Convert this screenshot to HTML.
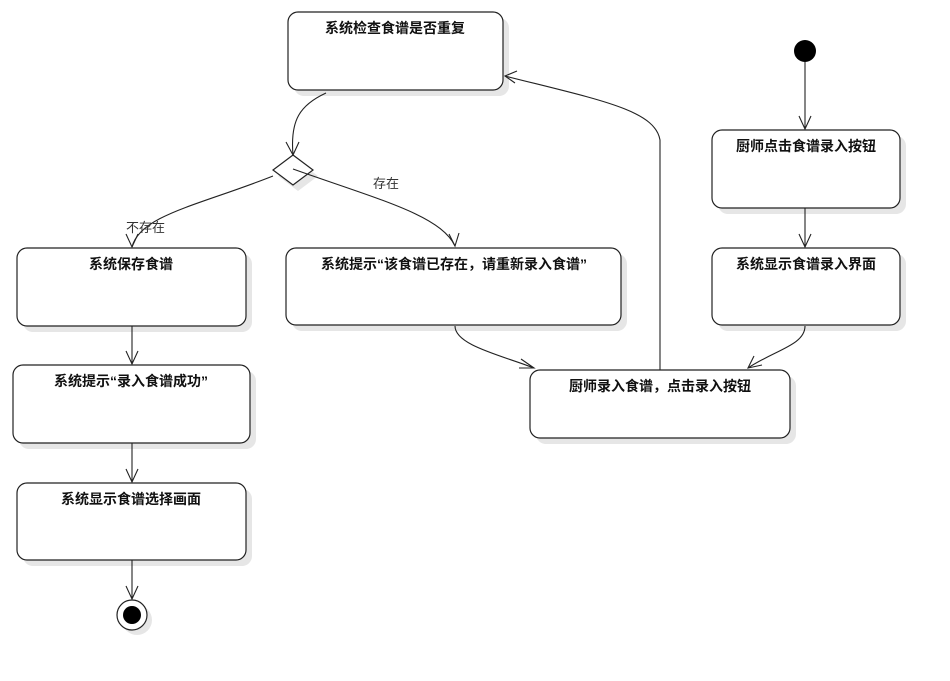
<!DOCTYPE html>
<html><head><meta charset="utf-8"><style>
html,body{margin:0;padding:0;background:#fff;}
svg{display:block;}
text{font-family:"Liberation Sans","Noto Sans CJK SC","WenQuanYi Zen Hei",sans-serif;}
.t{font-size:14px;font-weight:bold;fill:#111;text-anchor:middle;}
.l{font-size:13px;fill:#333;}
.b{fill:#fff;stroke:#222;stroke-width:1.2;}
.s{fill:#e6e6e6;}
.c{fill:none;stroke:#222;stroke-width:1.1;}
</style></head><body>
<svg width="950" height="681" viewBox="0 0 950 681" xmlns="http://www.w3.org/2000/svg">
<!-- shadows -->
<rect class="s" x="294" y="18" width="215" height="78" rx="10"/>
<rect class="s" x="718" y="136" width="188" height="78" rx="10"/>
<rect class="s" x="718" y="254" width="188" height="77" rx="10"/>
<rect class="s" x="23" y="254" width="229" height="78" rx="10"/>
<rect class="s" x="292" y="254" width="335" height="77" rx="10"/>
<rect class="s" x="19" y="371" width="237" height="78" rx="10"/>
<rect class="s" x="536" y="376" width="260" height="68" rx="10"/>
<rect class="s" x="23" y="489" width="229" height="77" rx="10"/>
<circle cx="137" cy="620" r="15" fill="#e6e6e6"/>
<polygon points="298,161 318,176 298,191 278,176" fill="#e6e6e6"/>
<!-- boxes -->
<rect class="b" x="288" y="12" width="215" height="78" rx="10"/>
<text class="t" x="395" y="33">系统检查食谱是否重复</text>
<rect class="b" x="712" y="130" width="188" height="78" rx="10"/>
<text class="t" x="806" y="151">厨师点击食谱录入按钮</text>
<rect class="b" x="712" y="248" width="188" height="77" rx="10"/>
<text class="t" x="806" y="269">系统显示食谱录入界面</text>
<rect class="b" x="17" y="248" width="229" height="78" rx="10"/>
<text class="t" x="131" y="269">系统保存食谱</text>
<rect class="b" x="286" y="248" width="335" height="77" rx="10"/>
<text class="t" x="454" y="269">系统提示“该食谱已存在，请重新录入食谱”</text>
<rect class="b" x="13" y="365" width="237" height="78" rx="10"/>
<text class="t" x="131" y="386">系统提示“录入食谱成功”</text>
<rect class="b" x="530" y="370" width="260" height="68" rx="10"/>
<text class="t" x="660" y="391">厨师录入食谱，点击录入按钮</text>
<rect class="b" x="17" y="483" width="229" height="77" rx="10"/>
<text class="t" x="131" y="504">系统显示食谱选择画面</text>
<!-- diamond -->
<polygon class="b" points="293,155 313,170 293,185 273,170"/>
<!-- start/end -->
<circle cx="805" cy="51" r="11" fill="#000"/>
<circle cx="132" cy="615" r="15" fill="#fff" stroke="#222" stroke-width="1.2"/>
<circle cx="132" cy="615" r="9" fill="#000"/>
<!-- connectors -->
<path class="c" d="M326,93 C300,105 290,120 293,155"/>
<path class="c" d="M286,142 L293,155 L299,142"/>
<path class="c" d="M273,176 C200,205 140,215 132,247"/>
<path class="c" d="M126,234 L132,247 L138,234"/>
<path class="c" d="M293,169 C380,200 440,215 455,246"/>
<path class="c" d="M449,234 L455,246 L459,233"/>
<text class="l" x="373" y="188">存在</text>
<text class="l" x="126" y="232">不存在</text>
<path class="c" d="M455,326 C455,345 500,355 534,368"/>
<path class="c" d="M521,359 L534,368 L519,368"/>
<path class="c" d="M132,326 L132,364"/><path class="c" d="M126,351 L132,364 L138,351"/>
<path class="c" d="M132,443 L132,482"/><path class="c" d="M126,469 L132,482 L138,469"/>
<path class="c" d="M132,560 L132,599"/><path class="c" d="M126,586 L132,599 L138,586"/>
<path class="c" d="M805,62 L805,129"/><path class="c" d="M799,116 L805,129 L811,116"/>
<path class="c" d="M805,208 L805,247"/><path class="c" d="M799,234 L805,247 L811,234"/>
<path class="c" d="M805,326 C805,345 775,350 748,368"/>
<path class="c" d="M754,356 L748,368 L762,365"/>
<path class="c" d="M660,370 L660,140 C655,110 600,100 505,76"/>
<path class="c" d="M517,71 L505,76 L515,83"/>
</svg>
</body></html>
